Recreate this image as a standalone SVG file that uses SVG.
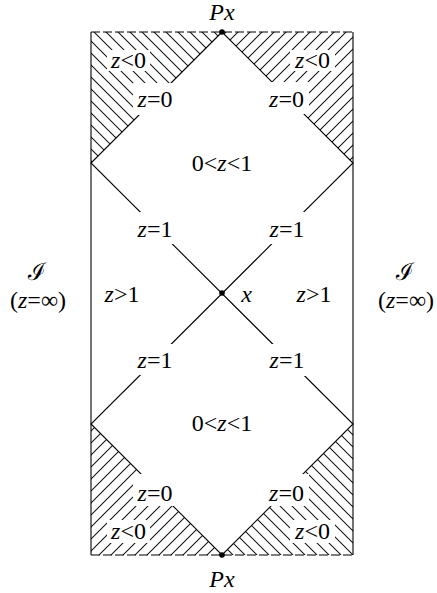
<svg xmlns="http://www.w3.org/2000/svg" width="437" height="593" viewBox="0 0 437 593">
<style>
text{font-family:"Liberation Serif","DejaVu Serif",serif;font-size:24px;fill:#000;text-anchor:middle}
.i{font-style:italic}
.ln{stroke:#000;stroke-width:1.1;fill:none}
.hl{stroke:#000;stroke-width:0.9}
</style>
<defs>
<pattern id="hb" patternUnits="userSpaceOnUse" width="8.485" height="10" patternTransform="rotate(-45 222 32)">
<line class="hl" x1="4.24" y1="-1" x2="4.24" y2="11"/>
</pattern>
<pattern id="hf" patternUnits="userSpaceOnUse" width="8.485" height="10" patternTransform="rotate(45 222 32)">
<line class="hl" x1="4.24" y1="-1" x2="4.24" y2="11"/>
</pattern>
<mask id="m" maskUnits="userSpaceOnUse" x="0" y="0" width="437" height="593">
<rect x="0" y="0" width="437" height="593" fill="#fff"/>
<g fill="#000">
<rect x="107" y="50" width="43" height="21"/>
<rect x="290" y="50" width="45" height="21"/>
<rect x="133" y="83" width="44" height="32"/>
<rect x="264" y="82" width="45" height="32"/>
<rect x="133" y="212" width="44" height="32"/>
<rect x="264" y="212" width="44" height="32"/>
<rect x="133" y="344" width="44" height="31"/>
<rect x="264" y="344" width="44" height="32"/>
<rect x="133" y="474" width="44" height="32"/>
<rect x="265" y="474" width="44" height="32"/>
<rect x="107" y="520" width="43" height="23"/>
<rect x="290" y="520" width="45" height="23"/>
</g>
</mask>
</defs>

<g id="hatching" mask="url(#m)">
<polygon points="91,32 222,32 91,163" fill="url(#hb)"/>
<polygon points="222,32 353,32 353,163" fill="url(#hf)"/>
<polygon points="91,424 222,555 91,555" fill="url(#hf)"/>
<polygon points="353,424 353,555 222,555" fill="url(#hb)"/>
</g>

<g id="frame">
<line class="ln" x1="91" y1="32" x2="91" y2="555"/>
<line class="ln" x1="353" y1="32" x2="353" y2="555"/>
<line class="ln" x1="91" y1="32" x2="353" y2="32" stroke-dasharray="9 3"/>
<line class="ln" x1="91" y1="555" x2="353" y2="555" stroke-dasharray="9 3"/>
</g>

<g id="connectors" mask="url(#m)">
<path class="ln" d="M222,32 L91,163 L353,424 L222,555 L91,424 L353,163 Z"/>
</g>

<g id="points">
<circle id="px-top" cx="222" cy="32" r="2.8" fill="#000"/>
<circle id="x-center" cx="222" cy="293" r="2.8" fill="#000"/>
<circle id="px-bottom" cx="222" cy="555" r="2.8" fill="#000"/>
</g>

<g id="labels">
<text x="222" y="20"><tspan class="i">Px</tspan></text>
<text x="222" y="587"><tspan class="i">Px</tspan></text>
<text x="128.5" y="68"><tspan class="i">z</tspan>&lt;0</text>
<text x="312.5" y="68"><tspan class="i">z</tspan>&lt;0</text>
<text x="155" y="107"><tspan class="i">z</tspan>=0</text>
<text x="286.5" y="107"><tspan class="i">z</tspan>=0</text>
<text x="222" y="171">0&lt;<tspan class="i">z</tspan>&lt;1</text>
<text x="155" y="237"><tspan class="i">z</tspan>=1</text>
<text x="287" y="237"><tspan class="i">z</tspan>=1</text>
<text x="122" y="302"><tspan class="i">z</tspan>&gt;1</text>
<text x="314" y="302"><tspan class="i">z</tspan>&gt;1</text>
<text x="246.5" y="302"><tspan class="i">x</tspan></text>
<text x="155" y="368"><tspan class="i">z</tspan>=1</text>
<text x="287" y="368"><tspan class="i">z</tspan>=1</text>
<text x="222" y="431">0&lt;<tspan class="i">z</tspan>&lt;1</text>
<text x="155" y="501"><tspan class="i">z</tspan>=0</text>
<text x="286.5" y="501"><tspan class="i">z</tspan>=0</text>
<text x="128.5" y="539"><tspan class="i">z</tspan>&lt;0</text>
<text x="312.5" y="539"><tspan class="i">z</tspan>&lt;0</text>
<text x="37" y="280">ℐ</text>
<text x="38" y="308">(<tspan class="i">z</tspan>=∞)</text>
<text x="405" y="280">ℐ</text>
<text x="406" y="308">(<tspan class="i">z</tspan>=∞)</text>
</g>
</svg>
